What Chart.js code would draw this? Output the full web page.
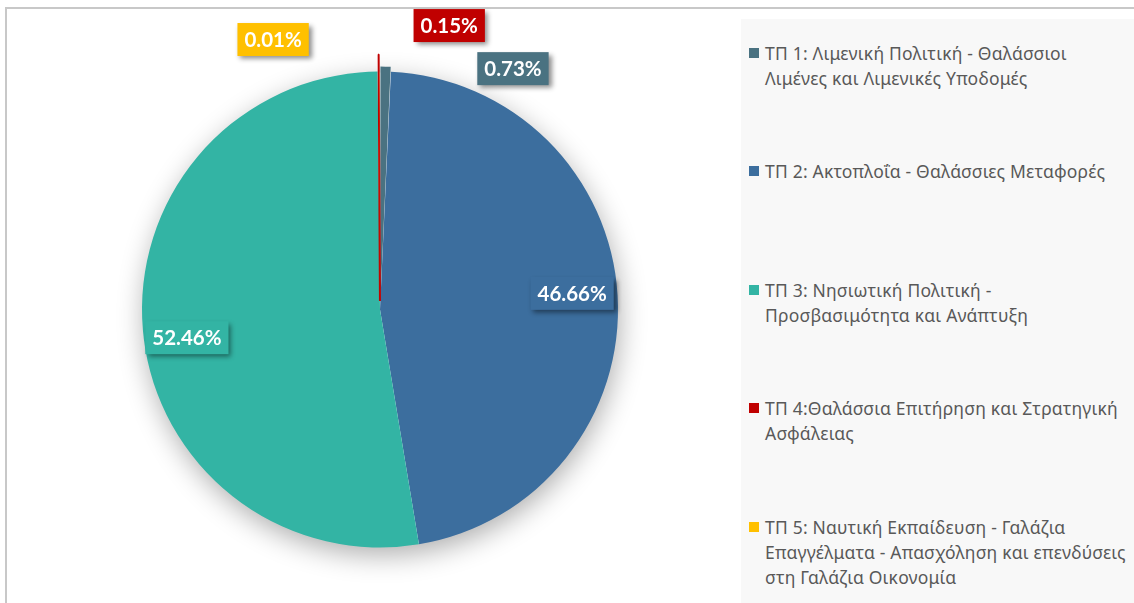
<!DOCTYPE html>
<html>
<head>
<meta charset="utf-8">
<script src="https://cdn.jsdelivr.net/npm/chart.js@4.4.1/dist/chart.umd.min.js"></script>
<style>
  html, body { margin: 0; padding: 0; background: #ffffff; overflow: hidden; }
  #wrap { position: relative; width: 1134px; height: 603px; overflow: hidden; }
  #frame { position: absolute; left: 5px; top: 7px; width: 1150px; height: 620px;
           border: 2px solid #c8c8c8; box-sizing: border-box; }
  #pie { position: absolute; left: 0; top: 0; }
  #legend { position: absolute; left: 741px; top: 19px; width: 400px; height: 600px;
            background: #f8f8f8; }
  .item { position: absolute; left: 24px; font-family: 'Noto Sans', sans-serif;
          font-size: 17.5px; letter-spacing: 0.2px; line-height: 25px; color: #595959;
          white-space: nowrap; }
  .sw { position: absolute; left: -16px; top: 7px; width: 10px; height: 10px; }
</style>
</head>
<body>
<div id="wrap">
  <div id="frame"></div>
  <canvas id="pie" width="1134" height="603"></canvas>
  <div id="legend"></div>
</div>
<script>
// Categories (each entry split into its display lines)
const categories = [
  ['ΤΠ 1: Λιμενική Πολιτική - Θαλάσσιοι', 'Λιμένες και Λιμενικές Υποδομές'],
  ['ΤΠ 2: Ακτοπλοΐα - Θαλάσσιες Μεταφορές'],
  ['ΤΠ 3: Νησιωτική Πολιτική -', 'Προσβασιμότητα και Ανάπτυξη'],
  ['ΤΠ 4:Θαλάσσια Επιτήρηση και Στρατηγική', 'Ασφάλειας'],
  ['ΤΠ 5: Ναυτική Εκπαίδευση - Γαλάζια', 'Επαγγέλματα - Απασχόληση και επενδύσεις', 'στη  Γαλάζια Οικονομία']
];
// Share of each category (%)
const shares = [0.73, 46.66, 52.46, 0.15, 0.01];
const colors = ['#4a7281', '#3c6e9e', '#33b4a4', '#c00000', '#ffc000'];
// Pulled-out distance of the slices (Chart.js moves a thin slice's rim by about half of this)
const slicePull = [10, 0, 0, 34, 0];
// Outline width: keeps the hair-thin pulled-out slice visible as a line
const sliceEdge = [0, 0, 0, 2, 0];
// Where each value label sits: angle clockwise from 12 o'clock, distance in radii
const labelSpots = [
  { angle: 28.9, dist: 1.156 },
  { angle: 85.2, dist: 0.81 },
  { angle: 261.7, dist: 0.82 },
  { angle: 13.7, dist: 1.228 },
  { angle: -21.6, dist: 1.22 }
];

// Legend
const legend = document.getElementById('legend');
categories.forEach((lines, i) => {
  const el = document.createElement('div');
  el.className = 'item';
  el.style.top = (21.5 + i * 118.5) + 'px';
  const sw = document.createElement('span');
  sw.className = 'sw';
  sw.style.background = colors[i];
  el.appendChild(sw);
  lines.forEach((t, k) => {
    if (k) el.appendChild(document.createElement('br'));
    el.appendChild(document.createTextNode(t));
  });
  legend.appendChild(el);
});

// Soft drop shadow under the whole pie
const pieShadow = {
  id: 'pieShadow',
  beforeDatasetsDraw(chart) {
    const a = chart.getDatasetMeta(0).data[0];
    if (!a) return;
    const ctx = chart.ctx;
    ctx.save();
    ctx.shadowColor = 'rgba(0,0,0,0.33)';
    ctx.shadowBlur = 28;
    ctx.shadowOffsetX = 2;
    ctx.shadowOffsetY = 8;
    ctx.beginPath();
    ctx.arc(a.x, a.y, a.outerRadius - 1, 0, Math.PI * 2);
    ctx.fillStyle = '#ffffff';
    ctx.fill();
    ctx.restore();
  }
};

// Boxed percentage labels
const valueBoxes = {
  id: 'valueBoxes',
  afterDatasetsDraw(chart) {
    const meta = chart.getDatasetMeta(0);
    const ctx = chart.ctx;
    ctx.save();
    ctx.font = 'bold 20.5px Lato, "Open Sans", sans-serif';
    ctx.textAlign = 'center';
    ctx.textBaseline = 'middle';
    meta.data.forEach((arc, i) => {
      const spot = labelSpots[i];
      const ang = (spot.angle - 90) * Math.PI / 180;
      const cx = arc.x + Math.cos(ang) * arc.outerRadius * spot.dist;
      const cy = arc.y + Math.sin(ang) * arc.outerRadius * spot.dist;
      const txt = shares[i].toFixed(2) + '%';
      const w = ctx.measureText(txt).width + 14;
      const h = 33;
      ctx.save();
      ctx.shadowColor = 'rgba(0,0,0,0.45)';
      ctx.shadowBlur = 5;
      ctx.shadowOffsetX = 3;
      ctx.shadowOffsetY = 3;
      ctx.fillStyle = colors[i];
      ctx.fillRect(cx - w / 2, cy - h / 2, w, h);
      ctx.restore();
      ctx.fillStyle = '#ffffff';
      ctx.fillText(txt, cx, cy + 1);
    });
    ctx.restore();
  }
};

new Chart(document.getElementById('pie'), {
  type: 'pie',
  data: {
    labels: categories,
    datasets: [{
      data: shares,
      backgroundColor: colors,
      borderColor: colors,
      borderWidth: sliceEdge,
      borderJoinStyle: 'bevel',
      offset: slicePull,
      hoverOffset: 0,
      hoverBorderWidth: 0
    }]
  },
  options: {
    responsive: false,
    animation: false,
    events: [],
    layout: { padding: { left: 124, right: 498, top: 53.5, bottom: 37.5 } },
    plugins: { legend: { display: false }, tooltip: { enabled: false } }
  },
  plugins: [pieShadow, valueBoxes]
});
</script>
</body>
</html>
